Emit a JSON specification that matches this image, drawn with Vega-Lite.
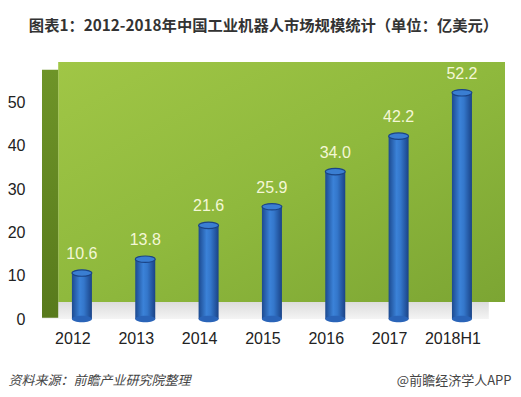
{
  "$schema": "https://vega.github.io/schema/vega-lite/v6.json",
  "width": 463,
  "height": 260,
  "autosize": {"type": "none"},
  "padding": {"left": 42, "top": 59, "right": 16, "bottom": 78},
  "background": "#ffffff",
  "config": {"view": {"stroke": null}, "font": "Liberation Sans"},
  "title": {
    "text": "图表1：2012-2018年中国工业机器人市场规模统计（单位：亿美元）",
    "font": "Noto Sans CJK SC",
    "fontSize": 15.3,
    "fontWeight": "bold",
    "color": "#333333",
    "anchor": "middle",
    "frame": "group",
    "dx": -10,
    "baseline": "middle",
    "offset": 18
  },
  "data": {
    "values": [
      {"year": "2012", "value": 10.6},
      {"year": "2013", "value": 13.8},
      {"year": "2014", "value": 21.6},
      {"year": "2015", "value": 25.9},
      {"year": "2016", "value": 34.0},
      {"year": "2017", "value": 42.2},
      {"year": "2018H1", "value": 52.2}
    ]
  },
  "resolve": {"scale": {"x": "independent"}, "axis": {"x": "independent"}},
  "layer": [
    {
      "data": {"values": [{"part": "wall"}]},
      "layer": [
        {
          "mark": {"type": "rect", "color": {"gradient": "linear", "x1": 0, "x2": 0, "y1": 0, "y2": 1, "stops": [{"offset": 0, "color": "#dcdcdc"}, {"offset": 1, "color": "#f4f4f4"}]}},
          "encoding": {
            "x": {"datum": 0, "type": "quantitative", "scale": {"domain": [0, 100]}, "axis": {"orient": "bottom", "labels": false, "ticks": false, "domain": false, "grid": false, "title": "@前瞻经济学人APP", "titleFont": "Noto Sans CJK SC", "titleFontSize": 13, "titleFontWeight": "normal", "titleColor": "#444444", "titleAnchor": "end", "titleAlign": "right", "titleBaseline": "alphabetic", "titleX": 469, "titleY": 65}},
            "x2": {"datum": 96.5},
            "y": {"datum": 0, "type": "quantitative", "scale": {"domain": [0, 60], "nice": false}},
            "y2": {"datum": 3.9}
          }
        },
        {
          "mark": {"type": "rect", "color": {"gradient": "linear", "x1": 0, "x2": 1, "y1": 0, "y2": 1, "stops": [{"offset": 0, "color": "#a0c646"}, {"offset": 0.5, "color": "#8fb93d"}, {"offset": 1, "color": "#7ca533"}]}},
          "encoding": {
            "x": {"datum": 3.5, "type": "quantitative"},
            "x2": {"datum": 100},
            "y": {"datum": 3.9, "type": "quantitative"},
            "y2": {"datum": 59.3}
          }
        },
        {
          "mark": {"type": "rect", "color": {"gradient": "linear", "x1": 0, "x2": 0, "y1": 0, "y2": 1, "stops": [{"offset": 0, "color": "#6e9428"}, {"offset": 1, "color": "#587a1c"}]}},
          "encoding": {
            "x": {"datum": 0, "type": "quantitative"},
            "x2": {"datum": 3.5},
            "y": {"datum": 0.3, "type": "quantitative"},
            "y2": {"datum": 57.5}
          }
        }
      ]
    },
    {
      "layer": [
        {
          "mark": {"type": "bar", "size": 20, "color": {"gradient": "linear", "x1": 0, "x2": 1, "y1": 0, "y2": 0, "stops": [{"offset": 0, "color": "#1c4a90"}, {"offset": 0.4, "color": "#3b82d8"}, {"offset": 0.6, "color": "#3477cb"}, {"offset": 1, "color": "#1a4387"}]}},
          "encoding": {
            "x": {"field": "year", "type": "nominal", "sort": null, "scale": {"paddingInner": 0, "paddingOuter": 0.155, "align": 0.42},
              "axis": {"orient": "bottom", "domain": false, "ticks": false, "labelAngle": 0, "labelFontSize": 16, "labelColor": "#222222", "labelPadding": 11, "labelOffset": -9, "labelFont": "Liberation Sans",
                "title": "资料来源：前瞻产业研究院整理", "titleFont": "Noto Sans CJK SC", "titleFontSize": 13, "titleFontWeight": "normal", "titleFontStyle": "italic", "titleColor": "#444444", "titleAnchor": "start", "titleAlign": "left", "titleBaseline": "alphabetic", "titleX": -34, "titleY": 65}},
            "y": {"field": "value", "type": "quantitative", "scale": {"domain": [0, 60], "nice": false},
              "axis": {"values": [0, 10, 20, 30, 40, 50], "domain": false, "ticks": false, "grid": false, "labelFontSize": 16, "labelColor": "#222222", "labelPadding": 17, "title": null, "labelFont": "Liberation Sans"}}
          }
        },
        {
          "mark": {"type": "point", "shape": "M-1,0A1,0.32,0,1,1,1,0A1,0.32,0,1,1,-1,0Z", "size": 400, "filled": true, "color": "#2a64b8", "opacity": 1},
          "encoding": {
            "x": {"field": "year", "type": "nominal", "sort": null},
            "y": {"datum": 0, "type": "quantitative"}
          }
        },
        {
          "mark": {"type": "point", "shape": "M-1,0A1,0.32,0,1,1,1,0A1,0.32,0,1,1,-1,0Z", "size": 400, "filled": true, "color": "#3a7ed2", "stroke": "#1b4486", "strokeWidth": 1.2, "opacity": 1},
          "encoding": {
            "x": {"field": "year", "type": "nominal", "sort": null},
            "y": {"field": "value", "type": "quantitative"}
          }
        },
        {
          "mark": {"type": "text", "dy": -19, "baseline": "middle", "fontSize": 16, "color": "#f4f7d6", "font": "Liberation Sans"},
          "encoding": {
            "x": {"field": "year", "type": "nominal", "sort": null},
            "y": {"field": "value", "type": "quantitative"},
            "text": {"field": "value", "type": "quantitative", "format": ".1f"}
          }
        }
      ]
    }
  ]
}
